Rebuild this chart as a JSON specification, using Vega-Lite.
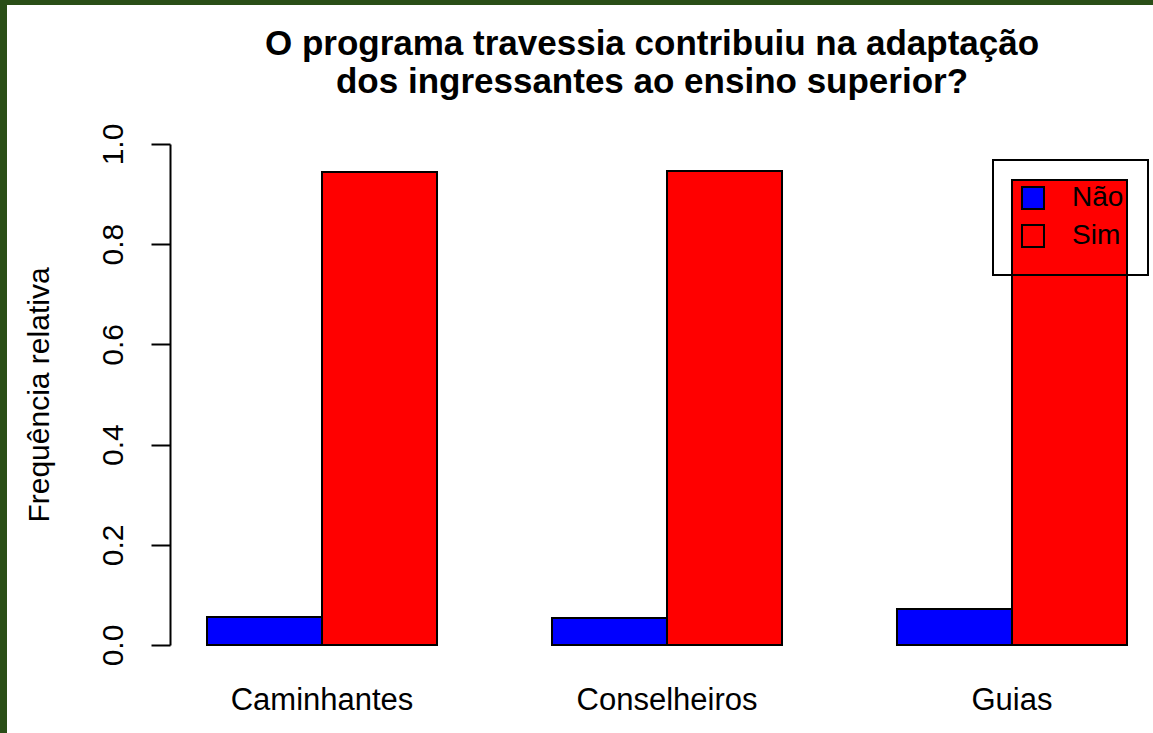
{
  "$schema": "https://vega.github.io/schema/vega-lite/v6.json",
  "autosize": {"type": "none"},
  "width": 1146,
  "height": 728,
  "padding": {"left": 7, "top": 5, "right": 0, "bottom": 0},
  "background": "#2a4e17",
  "config": {
    "view": {"fill": "white", "stroke": null},
    "font": "Liberation Sans",
    "axis": {"labelColor": "black", "titleColor": "black", "labelFont": "Liberation Sans", "titleFont": "Liberation Sans", "grid": false}
  },
  "title": {
    "text": ["O programa travessia contribuiu na adaptação", "dos ingressantes ao ensino superior?"],
    "fontSize": 35,
    "fontWeight": "bold",
    "font": "Liberation Sans",
    "color": "black",
    "anchor": "middle",
    "frame": "group",
    "baseline": "top",
    "offset": -95,
    "lineHeight": 38,
    "dx": 72
  },
  "data": {
    "values": [
      {"grupo": "Caminhantes", "resposta": "Não", "freq": 0.056},
      {"grupo": "Caminhantes", "resposta": "Sim", "freq": 0.944},
      {"grupo": "Conselheiros", "resposta": "Não", "freq": 0.054},
      {"grupo": "Conselheiros", "resposta": "Sim", "freq": 0.946},
      {"grupo": "Guias", "resposta": "Não", "freq": 0.072},
      {"grupo": "Guias", "resposta": "Sim", "freq": 0.928}
    ]
  },
  "mark": {"type": "bar", "stroke": "black", "strokeWidth": 2},
  "encoding": {
    "x": {
      "field": "grupo",
      "type": "nominal",
      "sort": ["Caminhantes", "Conselheiros", "Guias"],
      "scale": {"range": [200, 1120], "paddingInner": 0.3333, "paddingOuter": 0},
      "axis": {"title": null, "domain": false, "ticks": false, "labelAngle": 0, "labelFontSize": 31, "labelLimit": 400, "offset": -88, "labelPadding": 40}
    },
    "xOffset": {
      "field": "resposta",
      "type": "nominal",
      "scale": {"paddingInner": 0, "paddingOuter": 0}
    },
    "y": {
      "field": "freq",
      "type": "quantitative",
      "scale": {"domain": [0, 1], "range": [640, 139], "nice": false, "zero": true},
      "axis": {
        "title": "Frequência relativa",
        "titleFontSize": 30,
        "titleFontWeight": "normal",
        "values": [0, 0.2, 0.4, 0.6, 0.8, 1.0],
        "format": ".1f",
        "labelAngle": -90,
        "labelFontSize": 30,
        "tickSize": 19,
        "tickWidth": 2,
        "tickColor": "black",
        "domainColor": "black",
        "domainWidth": 2,
        "labelPadding": 23,
        "titlePadding": 44,
        "offset": -163
      }
    },
    "color": {
      "field": "resposta",
      "type": "nominal",
      "scale": {"domain": ["Não", "Sim"], "range": ["#0000ff", "#ff0000"]},
      "legend": {
        "title": null,
        "orient": "none",
        "legendX": 986,
        "legendY": 155,
        "strokeColor": "black",
        "padding": 24,
        "symbolType": "square",
        "symbolSize": 484,
        "symbolStrokeColor": "black",
        "symbolStrokeWidth": 2,
        "symbolOffset": 2,
        "labelFontSize": 28,
        "labelColor": "black",
        "labelOffset": 25,
        "rowPadding": 8,
        "encode": {"legend": {"update": {"strokeWidth": {"value": 2}}}}
      }
    }
  }
}
